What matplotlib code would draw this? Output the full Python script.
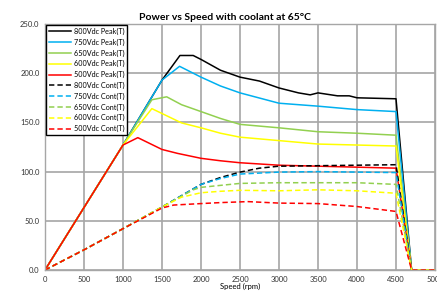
import matplotlib.pyplot as plt

plt.rcParams['font.family'] = ['Lato', 'DejaVu Sans']

# Peak power curves (kW) vs speed (rpm)
x_800_peak = [0, 1000, 1500, 1730, 1900, 2000, 2250, 2500, 2750, 3000, 3250, 3400, 3500, 3750, 3900, 4000, 4500, 4700, 5000]
y_800_peak = [0, 127, 193, 218, 218, 214, 203, 196, 192, 185, 180, 178, 180, 177, 177, 175, 174, 0, 0]

x_750_peak = [0, 1000, 1500, 1725, 2000, 2250, 2500, 3000, 3500, 4000, 4500, 4700, 5000]
y_750_peak = [0, 127, 193, 207, 196, 187, 180, 169.5, 166.5, 163, 161, 0, 0]

x_650_peak = [0, 1000, 1370, 1560, 1750, 2000, 2250, 2500, 3000, 3500, 4000, 4500, 4700, 5000]
y_650_peak = [0, 127, 173, 176, 168, 161, 154, 148, 144.5, 140.5, 139, 137, 0, 0]

x_600_peak = [0, 1000, 1370, 1750, 2000, 2250, 2500, 3000, 3500, 4000, 4500, 4700, 5000]
y_600_peak = [0, 127, 164, 149.5, 144.5, 139, 135, 131.5, 128, 127, 126, 0, 0]

x_500_peak = [0, 1000, 1190, 1500, 1700, 2000, 2250, 2500, 3000, 3500, 4000, 4500, 4700, 5000]
y_500_peak = [0, 127, 134.5, 122.5, 118.5, 113.5, 111, 109, 106.5, 105.5, 104.5, 103.5, 0, 0]

# Continuous power curves
x_800_cont = [0, 500, 1000, 1500, 2000, 2250, 2500, 2750, 3000, 3500, 4000, 4500, 4700, 5000]
y_800_cont = [0, 20.5, 42, 64, 87, 94, 99.5, 103.5, 105.5, 106, 106.5, 107, 0, 0]

x_750_cont = [0, 500, 1000, 1500, 2000, 2250, 2500, 2750, 3000, 3500, 4000, 4500, 4700, 5000]
y_750_cont = [0, 20.5, 42, 64, 87, 93, 97.5, 98.5, 99.5, 100, 99.5, 99, 0, 0]

x_650_cont = [0, 500, 1000, 1500, 1900, 2000, 2250, 2500, 3000, 3500, 4000, 4500, 4700, 5000]
y_650_cont = [0, 20.5, 42, 64, 81.5, 84, 86, 88, 88.7, 88.7, 88.7, 87, 0, 0]

x_600_cont = [0, 500, 1000, 1500, 1750, 2000, 2250, 2500, 3000, 3500, 4000, 4500, 4700, 5000]
y_600_cont = [0, 20.5, 42, 64, 74, 78.5, 80, 81, 80.5, 81.5, 80.5, 78, 0, 0]

x_500_cont = [0, 500, 1000, 1500, 1650, 2000, 2250, 2600, 3000, 3500, 4000, 4250, 4500, 4700, 5000]
y_500_cont = [0, 20.5, 42, 63, 66, 67.5, 68.5, 69.5, 68, 67.5, 64.5, 62, 59.5, 0, 0]

colors = ['black', '#00B0F0', '#92D050', '#FFFF00', '#FF0000']
volts = ['800', '750', '650', '600', '500']

peak_series = [(x_800_peak, y_800_peak), (x_750_peak, y_750_peak), (x_650_peak, y_650_peak),
               (x_600_peak, y_600_peak), (x_500_peak, y_500_peak)]
cont_series = [(x_800_cont, y_800_cont), (x_750_cont, y_750_cont), (x_650_cont, y_650_cont),
               (x_600_cont, y_600_cont), (x_500_cont, y_500_cont)]

fig = plt.figure(figsize=(4.37, 2.93), dpi=100)
ax = fig.add_axes([45/437, 23/293, 390/437, 246/293])

for (xs, ys), c, v in zip(peak_series, colors, volts):
    ax.plot(xs, ys, color=c, lw=1.1, label=f'{v}Vdc Peak(T)')
for (xs, ys), c, v in zip(cont_series, colors, volts):
    ax.plot(xs, ys, color=c, lw=1.1, ls=(0, (3.5, 2)), label=f'{v}Vdc Cont(T)')

ax.set_xlim(0, 5000)
ax.set_ylim(0, 250)
ax.set_xticks(range(0, 5001, 500))
ax.set_yticks(range(0, 251, 50))
ax.set_yticklabels([f'{v:.1f}' for v in range(0, 251, 50)])
ax.grid(True, color='#a6a6a6', lw=1.2)
ax.set_axisbelow(True)
ax.tick_params(length=0, labelsize=5.5, colors='#333333', pad=4)
for s in ax.spines.values():
    s.set_color('#a6a6a6')
    s.set_linewidth(1.0)

# chart title is centred on the whole chart area, not the plot area
fig.text(224.5/437, 1 - 17/293, 'Power vs Speed with coolant at 65°C', fontsize=7.5,
         fontweight='bold', ha='center', va='center')
ax.set_xlabel('Speed (rpm)', fontsize=5.5, labelpad=0)

leg = ax.legend(loc='upper left', bbox_to_anchor=(0.003, 0.996), fontsize=5.2, frameon=True,
                fancybox=False, edgecolor='black', handlelength=3.0, labelspacing=0.5,
                borderpad=0.4, handletextpad=0.4, borderaxespad=0)
leg.get_frame().set_linewidth(1.0)
leg.get_frame().set_alpha(1)

plt.savefig('out.png', dpi=100)
